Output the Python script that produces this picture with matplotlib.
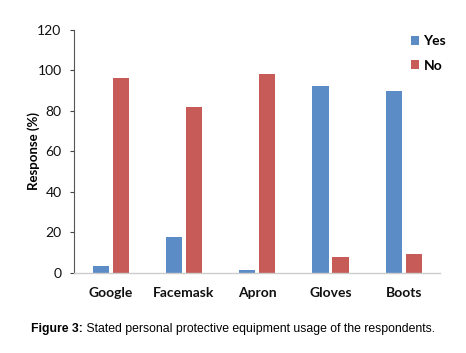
import matplotlib
matplotlib.use("Agg")
import matplotlib.pyplot as plt
import numpy as np

categories = ["Google", "Facemask", "Apron", "Gloves", "Boots"]
yes_vals = [3.5, 17.5, 1.5, 92.2, 90]
no_vals = [96.2, 81.8, 98.2, 7.8, 9.5]
yticks = [0, 20, 40, 60, 80, 100, 120]

plt.rcParams['font.family'] = ['Lato', 'DejaVu Sans']

fig = plt.figure(figsize=(4.66, 3.53), dpi=100)
ax = fig.add_axes([0.159, 0.227, 0.786, 0.688])

x = np.arange(len(categories))
w = 0.22
off = 0.137
ax.bar(x - off, yes_vals, w, color="#5b8cc5", label="Yes")
ax.bar(x + off, no_vals, w, color="#c75b58", label="No")

ax.set_xlim(-0.5, len(categories) - 0.5)
ax.set_ylim(0, 120)
ax.set_yticks(yticks)
ax.set_yticklabels([str(v) for v in yticks], fontsize=10, color="#111111")
ax.set_xticks(x)
ax.set_xticklabels(categories, fontsize=10, fontweight="bold", color="#111111")
ax.tick_params(axis="x", length=0, pad=10)
ax.tick_params(axis="y", length=3, width=0.8, color="#444444", pad=6)
ax.set_ylabel("Response (%)", fontsize=9.5, fontweight="bold", labelpad=-2)

for s in ["top", "right"]:
    ax.spines[s].set_visible(False)
ax.spines["left"].set_color("#555555")
ax.spines["left"].set_linewidth(0.8)
ax.spines["bottom"].set_color("#cccccc")
ax.spines["bottom"].set_linewidth(1.0)

leg = ax.legend(loc="upper right", bbox_to_anchor=(1.05, 1.03), frameon=False,
                fontsize=10, handlelength=0.6, handleheight=0.6, handletextpad=0.3,
                labelspacing=0.9)
for t in leg.get_texts():
    t.set_fontweight("bold")

cap_font = ["Liberation Sans", "DejaVu Sans"]
fig.canvas.draw()
r = fig.canvas.get_renderer()
t1 = fig.text(0, 0.068, "Figure 3:", fontsize=8.8, fontweight="bold", family=cap_font, va="center")
t2 = fig.text(0, 0.068, " Stated personal protective equipment usage of the respondents.",
              fontsize=8.8, family=cap_font, va="center")
w1 = t1.get_window_extent(r).width
w2 = t2.get_window_extent(r).width
W = fig.bbox.width
x0 = (W - (w1 + w2)) / 2
t1.set_x(x0 / W)
t2.set_x((x0 + w1) / W)

fig.savefig("out.png", dpi=100)
